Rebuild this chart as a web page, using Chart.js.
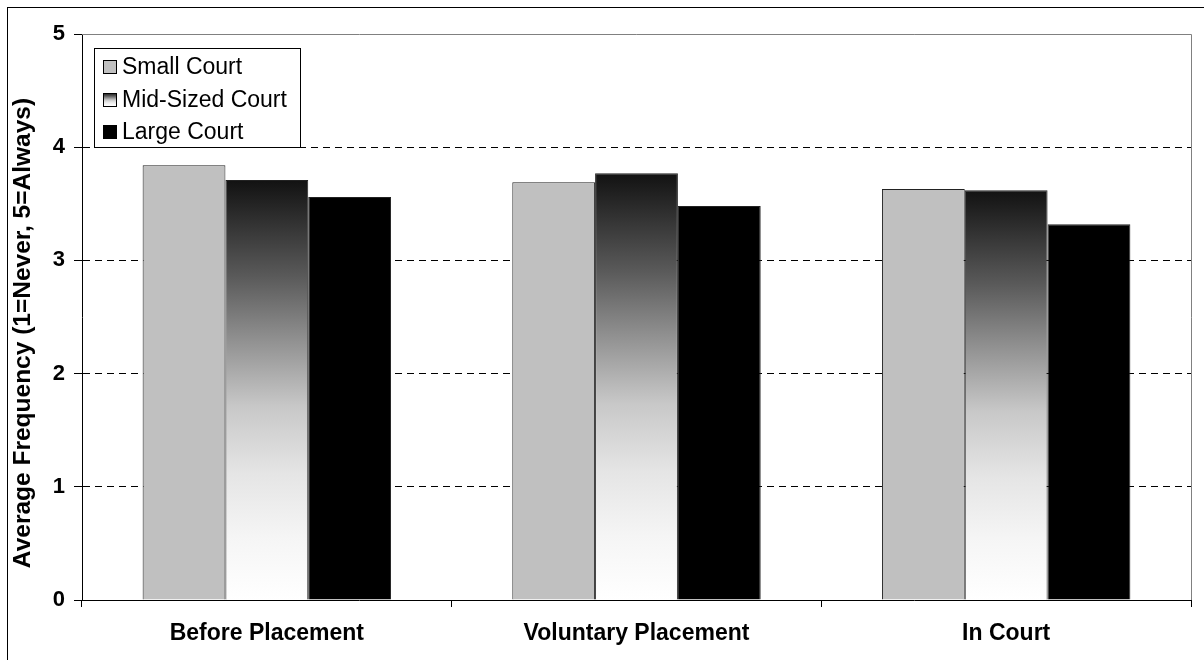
<!DOCTYPE html>
<html>
<head>
<meta charset="utf-8">
<script src="https://cdn.jsdelivr.net/npm/chart.js@4/dist/chart.umd.min.js"></script>
<style>
  html, body { margin: 0; padding: 0; background: #fff; }
  #wrap { width: 1204px; height: 660px; position: relative; }
</style>
</head>
<body>
<div id="wrap"><canvas id="courtChart"></canvas></div>
<script>
// categories and series
const placements = ['Before Placement', 'Voluntary Placement', 'In Court'];
const smallCourt = [3.84, 3.69, 3.63];
const midCourt = [3.71, 3.77, 3.62];
const largeCourt = [3.56, 3.48, 3.32];
const yTicks = [0, 1, 2, 3, 4, 5];
const yTitle = 'Average Frequency (1=Never, 5=Always)';

const FONT = '"Liberation Sans", Arial, sans-serif';

// dark top fading to white at the base, used for the mid-sized bars
function fadeStops(g) {
  g.addColorStop(0, '#121212');
  g.addColorStop(0.23, '#5a5a5a');
  g.addColorStop(0.38, '#909090');
  g.addColorStop(0.54, '#c8c8c8');
  g.addColorStop(0.70, '#e5e5e5');
  g.addColorStop(0.85, '#f5f5f5');
  g.addColorStop(1, '#ffffff');
  return g;
}

function midFill(ctx) {
  const chart = ctx.chart;
  if (!chart.chartArea || ctx.raw == null) return '#777';
  const y = chart.scales.y;
  const top = y.getPixelForValue(ctx.raw);
  const base = y.getPixelForValue(0);
  return fadeStops(chart.ctx.createLinearGradient(0, top, 0, base));
}

// outer frame (only left/top fall inside the canvas), plot edges and the axis title
const framePlugin = {
  id: 'frame',
  beforeDraw(chart) {
    const c = chart.ctx;
    c.save();
    c.fillStyle = '#fff';
    c.fillRect(0, 0, chart.width, chart.height);
    c.strokeStyle = '#000';
    c.lineWidth = 1;
    c.strokeRect(7.5, 7.5, chart.width, chart.height);

    // rotated y title, centred on the whole frame height
    c.translate(23, 333);
    c.rotate(-Math.PI / 2);
    c.font = 'bold 24.5px ' + FONT;
    c.fillStyle = '#000';
    c.textAlign = 'center';
    c.textBaseline = 'middle';
    c.fillText(yTitle, 0, 0);
    c.restore();
  },
  beforeDatasetsDraw(chart) {
    const a = chart.chartArea;
    const c = chart.ctx;
    c.save();
    c.strokeStyle = '#808080';
    c.lineWidth = 1;
    c.beginPath();
    c.moveTo(a.left, Math.round(a.top) + 0.5);
    c.lineTo(Math.round(a.right) + 0.5, Math.round(a.top) + 0.5);
    c.lineTo(Math.round(a.right) + 0.5, a.bottom);
    c.stroke();
    c.restore();
  }
};

// boxed legend sitting inside the plot, top left
const boxLegend = {
  id: 'boxLegend',
  afterDraw(chart) {
    const c = chart.ctx;
    const x0 = 94, y0 = 48, w = 206, h = 99, row = 32.5;
    c.save();
    c.fillStyle = '#fff';
    c.fillRect(x0, y0, w, h);
    c.strokeStyle = '#000';
    c.lineWidth = 1;
    c.strokeRect(x0 + 0.5, y0 + 0.5, w, h);
    c.font = '23px ' + FONT;
    c.textBaseline = 'middle';
    chart.data.datasets.forEach((ds, i) => {
      const cy = y0 + 19 + i * row;
      const sx = 103, sy = Math.round(cy - 7);
      if (i === 1) {
        c.fillStyle = fadeStops(c.createLinearGradient(0, sy, 0, sy + 13));
      } else {
        c.fillStyle = ds.backgroundColor;
      }
      c.fillRect(sx, sy, 13, 13);
      c.strokeStyle = '#000';
      c.strokeRect(sx + 0.5, sy + 0.5, 13, 13);
      c.fillStyle = '#000';
      c.fillText(ds.label, 122, cy + 1);
    });
    c.restore();
  }
};

new Chart(document.getElementById('courtChart'), {
  type: 'bar',
  data: {
    labels: placements,
    datasets: [
      { label: 'Small Court', data: smallCourt, backgroundColor: '#c0c0c0', borderColor: '#222', borderWidth: 1 },
      { label: 'Mid-Sized Court', data: midCourt, backgroundColor: midFill, borderColor: '#222', borderWidth: 1 },
      { label: 'Large Court', data: largeCourt, backgroundColor: '#000', borderColor: '#222', borderWidth: 1 }
    ]
  },
  options: {
    responsive: true,
    maintainAspectRatio: false,
    animation: false,
    devicePixelRatio: 1,
    layout: { padding: { top: 34, right: 13, bottom: 0, left: 0 } },
    datasets: { bar: { barPercentage: 1, categoryPercentage: 0.672 } },
    plugins: { legend: { display: false }, tooltip: { enabled: false } },
    scales: {
      x: {
        grid: { offset: true, drawOnChartArea: false, tickLength: 7, color: '#000' },
        border: { color: '#000', width: 1 },
        ticks: { color: '#000', padding: 13, font: { family: FONT, size: 23, weight: 'bold' } },
        afterFit(s) { s.height = 60; }
      },
      y: {
        min: 0,
        max: 5,
        afterBuildTicks(s) { s.ticks = yTicks.map(v => ({ value: v })); },
        grid: {
          color: c => (c.tick.value === 0 || c.tick.value === 5) ? 'rgba(0,0,0,0)' : '#000',
          tickColor: '#000',
          tickBorderDash: [],
          tickLength: 8
        },
        border: { color: '#000', width: 1, dash: [7, 5] },
        ticks: { color: '#000', padding: 9, font: { family: FONT, size: 22, weight: 'bold' } },
        afterFit(s) { s.width = 82; }
      }
    }
  },
  plugins: [framePlugin, boxLegend]
});
</script>
</body>
</html>
